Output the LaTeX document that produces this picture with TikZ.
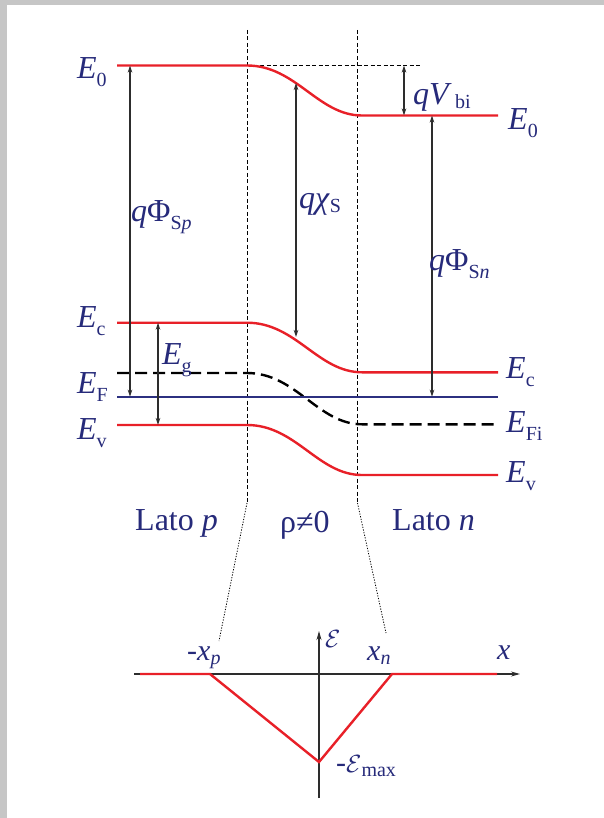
\documentclass[tikz,border=0pt]{standalone}
\usepackage{fontspec}
\setmainfont{Liberation Serif}
\usetikzlibrary{arrows.meta}
\definecolor{navy}{RGB}{38,42,122}
\definecolor{bandred}{RGB}{232,32,40}
\definecolor{efblue}{RGB}{44,48,128}
\definecolor{arrgray}{RGB}{45,45,45}
\newcommand\bigf{\fontsize{32}{36}\selectfont}
\newcommand\midf{\fontsize{30}{34}\selectfont}
\newcommand\subf{\fontsize{20}{22}\selectfont}
\newcommand\lsub[1]{\raisebox{-8pt}{\subf #1}}
\newcommand\ssub[1]{\raisebox{-4pt}{\subf #1}}
\newcommand\calE{{\fontsize{23}{25}\selectfont$\mathcal{E}$}}
\tikzset{
  lab/.style={text=navy, inner sep=0pt, anchor=base west, font=\bigf},
  blab/.style={text=navy, inner sep=0pt, anchor=base west, font=\midf},
  band/.style={draw=bandred, line width=2.4pt},
  fermi/.style={draw=efblue, line width=2pt},
  intr/.style={draw=black, line width=2.4pt, dash pattern=on 12pt off 6pt},
  guide/.style={draw=black, line width=0.8pt, dash pattern=on 4pt off 2.5pt},
  slant/.style={draw=black, line width=0.8pt, dash pattern=on 1.2pt off 1.5pt},
  dim/.style={draw=arrgray, line width=1.1pt, {Stealth[length=7pt,width=4.5pt]}-{Stealth[length=7pt,width=4.5pt]}},
  ax/.style={draw=arrgray, line width=1.1pt, -{Stealth[length=9pt,width=5pt]}},
}
\begin{document}
\begin{tikzpicture}[x=1pt,y=-1pt]
\useasboundingbox (0,0) rectangle (604,818);
\fill[gray!45] (0,0) rectangle (604,818);
\fill[white] (7,5) rectangle (604,818);

% guide lines
\coordinate (gLt) at (247,30);
\coordinate (gLb) at (247,503);
\coordinate (gRt) at (357.5,30);
\coordinate (gRb) at (357.5,503);
\coordinate (xp) at (219,641);
\coordinate (xn) at (386,633);
\draw[guide] (gLt) -- (gLb);
\draw[guide] (gRt) -- (gRb);
\draw[slant] (gLb) -- (xp);
\draw[slant] (gRb) -- (xn);
\coordinate (top0) at (247,65.5);
\coordinate (topE) at (422,65.5);
\draw[guide] (top0) -- (topE);

% bands
\draw[band] (117,65.5) -- (247,65.5) .. controls (296,65.5) and (318,115.5) .. (362,115.5) -- (498,115.5);
\draw[band] (117,322.7) -- (247,322.7) .. controls (296,322.7) and (318,372.3) .. (362,372.3) -- (498,372.3);
\draw[band] (117,425) -- (247,425) .. controls (296,425) and (318,475) .. (362,475) -- (498,475);
\draw[intr] (117,373) -- (247,373) .. controls (296,373) and (318,424.3) .. (362,424.3) -- (498,424.3);
\draw[fermi] (117,396.7) -- (498,396.7);

% dimension arrows
\coordinate (a1t) at (130,65.5);  \coordinate (a1b) at (130,396.7);
\coordinate (a2t) at (158,322.7); \coordinate (a2b) at (158,425);
\coordinate (a3t) at (296,83);    \coordinate (a3b) at (296,337);
\coordinate (a4t) at (404,65.5);  \coordinate (a4b) at (404,115.5);
\coordinate (a5t) at (432,115.5); \coordinate (a5b) at (432,396.7);
\draw[dim] (a1t) -- (a1b);
\draw[dim] (a2t) -- (a2b);
\draw[dim] (a3t) -- (a3b);
\draw[dim] (a4t) -- (a4b);
\draw[dim] (a5t) -- (a5b);

% left labels
\node[lab] (lE0) at (77,79) {\textit{E}\lsub{0}};
\node[lab] (lEc) at (77,327) {\textit{E}\lsub{c}};
\node[lab] (lEF) at (77,393) {\textit{E}\lsub{F}};
\node[lab] (lEv) at (77,439) {\textit{E}\lsub{v}};
\node[lab] (lEg) at (162,364) {\textit{E}\lsub{g}};
\node[lab] (lPp) at (131,222) {\textit{q}Φ\lsub{S\textit{p}}};
\node[lab] (lchi) at (299,209) {\textit{qχ}\ssub{S}};
% right labels
\node[lab] (rE0) at (508,130) {\textit{E}\lsub{0}};
\node[lab] (rEc) at (506,378) {\textit{E}\lsub{c}};
\node[lab] (rEFi) at (506,432) {\textit{E}\lsub{Fi}};
\node[lab] (rEv) at (506,482) {\textit{E}\lsub{v}};
\node[lab] (rVbi) at (413,105) {\textit{qV}\ssub{\,bi}};
\node[lab] (rPn) at (429,270) {\textit{q}Φ\lsub{S\textit{n}}};

% region labels
\node[lab] (latp) at (135,530) {Lato \textit{p}};
\node[lab] (rho) at (280,532) {ρ≠0};
\node[lab] (latn) at (392,530) {Lato \textit{n}};

% field plot
\coordinate (xa) at (134,674);
\coordinate (xb) at (520,674);
\coordinate (ya) at (319,798);
\coordinate (yb) at (319,631);
\draw[ax] (xa) -- (xb);
\draw[ax] (ya) -- (yb);
\coordinate (f1) at (140,674);
\coordinate (f2) at (210,674);
\coordinate (f3) at (319,762);
\coordinate (f4) at (392,674);
\coordinate (f5) at (497,674);
\draw[band, line join=miter] (f1) -- (f2) -- (f3) -- (f4) -- (f5);
\node[blab] (lxp) at (187,660) {-\textit{x}\ssub{\textit{p}}};
\node[blab] (lxn) at (367,660) {\textit{x}\ssub{\textit{n}}};
\node[blab] (lx) at (497,659) {\textit{x}};
\node[blab] (lE) at (325,647) {\calE};
\node[blab] (lEm) at (336,772) {-\calE\ssub{max}};
\end{tikzpicture}
\end{document}
